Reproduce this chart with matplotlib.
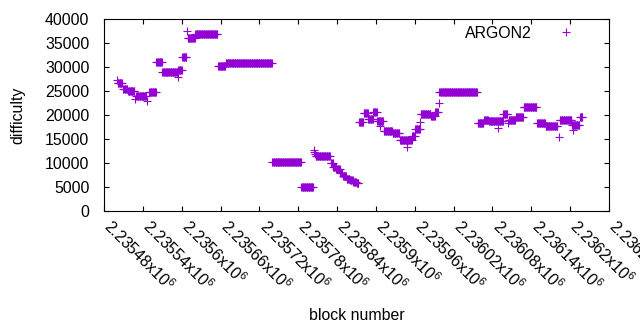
#!/usr/bin/env python3

"""Difficulty per block for ARGON2, gnuplot style scatter."""

import matplotlib as mpl
import matplotlib.pyplot as plt
import matplotlib.transforms as mtransforms
import numpy as np

mpl.use("Agg")

# Runs of consecutive blocks sharing one difficulty (first block, last block, value)
run_first = [
    2235501, 2235510, 2235517, 2235530, 2235550, 2235561, 2235570, 2235595,
    2235601, 2235609, 2235621, 2235656, 2235668, 2235740, 2235785, 2235807,
    2235830, 2235834, 2235839, 2235845, 2235849, 2235855, 2235860, 2235865,
    2235870, 2235874, 2235881, 2235888, 2235896, 2235902, 2235912, 2235926,
    2235937, 2235956, 2235961, 2235969, 2235985, 2235992, 2235998, 2236057,
    2236067, 2236074, 2236097, 2236105, 2236116, 2236128, 2236149, 2236162,
    2236184, 2236203, 2236215,
]
run_last = [
    2235508, 2235516, 2235527, 2235545, 2235560, 2235569, 2235593, 2235600,
    2235607, 2235620, 2235655, 2235667, 2235739, 2235784, 2235803, 2235829,
    2235833, 2235838, 2235844, 2235848, 2235854, 2235859, 2235864, 2235869,
    2235873, 2235880, 2235887, 2235895, 2235901, 2235911, 2235925, 2235936,
    2235955, 2235960, 2235968, 2235984, 2235991, 2235996, 2236056, 2236066,
    2236073, 2236096, 2236103, 2236115, 2236127, 2236148, 2236161, 2236180,
    2236202, 2236214, 2236219,
]
run_difficulty = [
    26600, 25480, 25060, 23950, 24720, 30970, 29020, 29370,
    32010, 35970, 36800, 30200, 30760, 10140, 5070, 11390,
    10070, 9240, 8680, 7980, 7290, 6600, 6460, 6110,
    5900, 18470, 20350, 19100, 20620, 18750, 16660, 16310,
    14790, 15560, 17080, 20140, 19790, 20690, 24720, 18400,
    18890, 18750, 20140, 18960, 19650, 21600, 18260, 17700,
    18960, 17910, 19650,
]

# Isolated blocks that stand apart from the runs
single_block = [
    2235500, 2235528, 2235547, 2235594, 2235608, 2235804, 2235805, 2235806,
    2235906, 2235948, 2235968, 2235997, 2236089, 2236104, 2236182, 2236204,
]
single_difficulty = [
    27290, 23260, 22910, 27980, 37490, 12710, 12300, 11900,
    17690, 13400, 18600, 22430, 17220, 18400, 15480, 16870,
]

x_ticks = [2235480 + 60 * i for i in range(14)]
y_ticks = [0, 5000, 10000, 15000, 20000, 25000, 30000, 35000, 40000]


def main():
    """Entry point."""
    plt.rcParams["font.family"] = ["Liberation Sans", "DejaVu Sans"]
    plt.rcParams["mathtext.fontset"] = "custom"
    plt.rcParams["mathtext.rm"] = "Liberation Sans"
    plt.rcParams["mathtext.it"] = "Liberation Sans"
    plt.rcParams["font.size"] = 11.4

    blocks = []
    diffs = []
    for first, last, d in zip(run_first, run_last, run_difficulty):
        blk = np.arange(first, last + 1)
        blocks.extend(blk)
        diffs.extend([d] * len(blk))
    blocks.extend(single_block)
    diffs.extend(single_difficulty)

    fig = plt.figure(figsize=(6.4, 3.3), dpi=100)
    ax = fig.add_axes([104 / 640, 1 - 211 / 330, 505 / 640, 192 / 330])

    ax.plot(blocks, diffs, linestyle="none", marker="+", markersize=5.8,
            markeredgewidth=0.8, color="#9400d3", label="ARGON2")

    ax.set_xlim(x_ticks[0], x_ticks[-1])
    ax.set_ylim(0, 40000)
    ax.set_xticks(x_ticks)
    ax.set_xticklabels([f"{t / 1e6:.6g}x10$^{{6}}$" for t in x_ticks],
                       rotation=-45, ha="left", va="top",
                       rotation_mode="anchor")
    ax.set_yticks(y_ticks)
    ax.tick_params(direction="in", top=True, right=True, length=3.5,
                   width=0.8)
    ax.tick_params(axis="y", pad=10.5)
    ax.tick_params(axis="x", pad=5)
    for sp in ax.spines.values():
        sp.set_linewidth(0.8)

    # gnuplot puts the start of each rotated label right under its tick
    shift = mtransforms.ScaledTranslation(7 / 72, 1 / 72, fig.dpi_scale_trans)
    for lab in ax.get_xticklabels():
        lab.set_transform(lab.get_transform() + shift)

    ax.set_xlabel("block number", labelpad=10)
    ax.set_ylabel("difficulty", labelpad=14)

    ax.legend(loc="upper right", bbox_to_anchor=(0.969, 0.965), frameon=False,
              markerfirst=False, handlelength=3.4, handletextpad=0.5,
              borderpad=0, borderaxespad=0)

    fig.savefig("out.png", dpi=100)


if __name__ == "__main__":
    main()
